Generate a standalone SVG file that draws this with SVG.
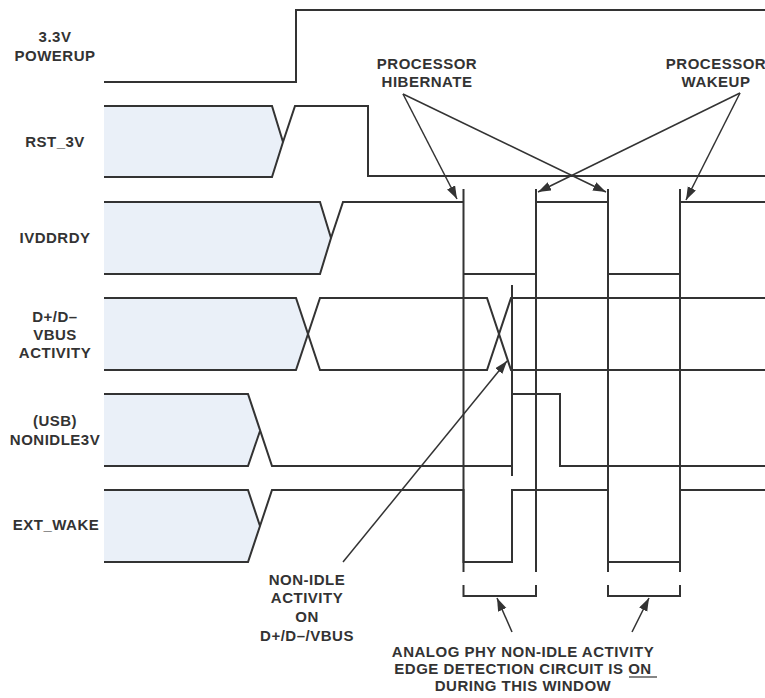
<svg xmlns="http://www.w3.org/2000/svg" width="765" height="698" viewBox="0 0 765 698">
<defs>
<style>
.lbl{font-family:"Liberation Sans",Arial,sans-serif;font-weight:bold;font-size:15px;fill:#333;text-anchor:middle;letter-spacing:0.5px}
.w{fill:none;stroke:#333;stroke-width:2;stroke-linejoin:miter}
.f{fill:#EAF0F8;stroke:none}
.mk{fill:none;stroke:#333;stroke-width:2}
.ar{fill:none;stroke:#333;stroke-width:1.5;marker-end:url(#ah)}
</style>
<marker id="ah" markerUnits="userSpaceOnUse" markerWidth="14" markerHeight="10" refX="13" refY="4.5" orient="auto">
<path d="M0,0 L13,4.5 L0,9 z" fill="#333"/>
</marker>
</defs>
<rect width="765" height="698" fill="#fff"/>

<g id="sig-powerup">
<text class="lbl" x="55" y="42">3.3V</text>
<text class="lbl" x="55" y="61">POWERUP</text>
<path class="w" d="M104,82 H296 V10 H765"/>
</g>

<g id="sig-rst3v">
<text class="lbl" x="55" y="147">RST_3V</text>
<path class="f" d="M104,106 H272 L283,142 L272,177 H104 z"/>
<path class="w" d="M104,106 H272 L283,142 L272,177 H104"/>
<path class="w" d="M283,142 L295,106 H368 V176 H765"/>
</g>

<g id="sig-ivddrdy">
<text class="lbl" x="55" y="243">IVDDRDY</text>
<path class="f" d="M104,202 H320 L331,238 L320,274 H104 z"/>
<path class="w" d="M104,202 H320 L331,238 L320,274 H104"/>
<path class="w" d="M331,238 L343,202 H463.5"/>
<path class="w" d="M463.5,274 H536"/>
<path class="w" d="M536,202 H608"/>
<path class="w" d="M608,274 H680"/>
<path class="w" d="M680,202 H765"/>
</g>

<g id="sig-dplus">
<text class="lbl" x="55" y="322">D+/D–</text>
<text class="lbl" x="55" y="340">VBUS</text>
<text class="lbl" x="55" y="358">ACTIVITY</text>
<path class="f" d="M104,298 H296 L308,334 L296,370 H104 z"/>
<path class="w" d="M104,298 H296 L320,370 H487 L511,298 H765"/>
<path class="w" d="M104,370 H296 L320,298 H487 L511,370 H765"/>
</g>

<g id="sig-nonidle3v">
<text class="lbl" x="55" y="426">(USB)</text>
<text class="lbl" x="55" y="445">NONIDLE3V</text>
<path class="f" d="M104,394 H248 L260,431 L248,466 H104 z"/>
<path class="w" d="M104,394 H248 L272,466 H511.5"/>
<path class="w" d="M104,466 H248 L260,431"/>
<path class="w" d="M512,394 H560 V466 H765"/>
</g>

<g id="sig-extwake">
<text class="lbl" x="56" y="530">EXT_WAKE</text>
<path class="f" d="M104,490 H248 L260,526 L248,562 H104 z"/>
<path class="w" d="M104,490 H248 L260,526 L248,562 H104"/>
<path class="w" d="M260,526 L272,490 H463.5 V562 H512 V490 H608 V562 H680 V490 H765"/>
</g>

<g id="markers">
<path class="mk" d="M463.5,189 V572 M536,189 V572 M608,189 V572 M680,189 V572"/>
<path class="mk" d="M512,285 V476"/>
<path class="mk" d="M463.5,585 V596 H536 V585"/>
<path class="mk" d="M608,585 V596 H680 V585"/>
</g>

<g id="label-hibernate">
<text class="lbl" x="427" y="69">PROCESSOR</text>
<text class="lbl" x="427" y="87">HIBERNATE</text>
</g>
<g id="label-wakeup">
<text class="lbl" x="716" y="69">PROCESSOR</text>
<text class="lbl" x="716" y="87">WAKEUP</text>
</g>
<g id="label-nonidle">
<text class="lbl" x="307" y="585">NON-IDLE</text>
<text class="lbl" x="307" y="603">ACTIVITY</text>
<text class="lbl" x="307" y="622">ON</text>
<text class="lbl" x="307" y="641">D+/D–/VBUS</text>
</g>
<g id="label-window">
<text class="lbl" x="523" y="657">ANALOG PHY NON-IDLE ACTIVITY</text>
<text class="lbl" x="523" y="674">EDGE DETECTION CIRCUIT IS ON</text>
<text class="lbl" x="523" y="691">DURING THIS WINDOW</text>
<line x1="629" y1="677" x2="657" y2="677" stroke="#333" stroke-width="1.2"/>
</g>

<g id="connectors">
<line class="ar" x1="403" y1="94" x2="457" y2="199"/>
<line class="ar" x1="403" y1="94" x2="606" y2="192"/>
<line class="ar" x1="740" y1="93" x2="538" y2="192"/>
<line class="ar" x1="740" y1="93" x2="686" y2="200"/>
<line class="ar" x1="343" y1="562" x2="507" y2="361"/>
<line class="ar" x1="512" y1="632" x2="497" y2="598"/>
<line class="ar" x1="632" y1="632" x2="649" y2="598"/>
</g>
</svg>
